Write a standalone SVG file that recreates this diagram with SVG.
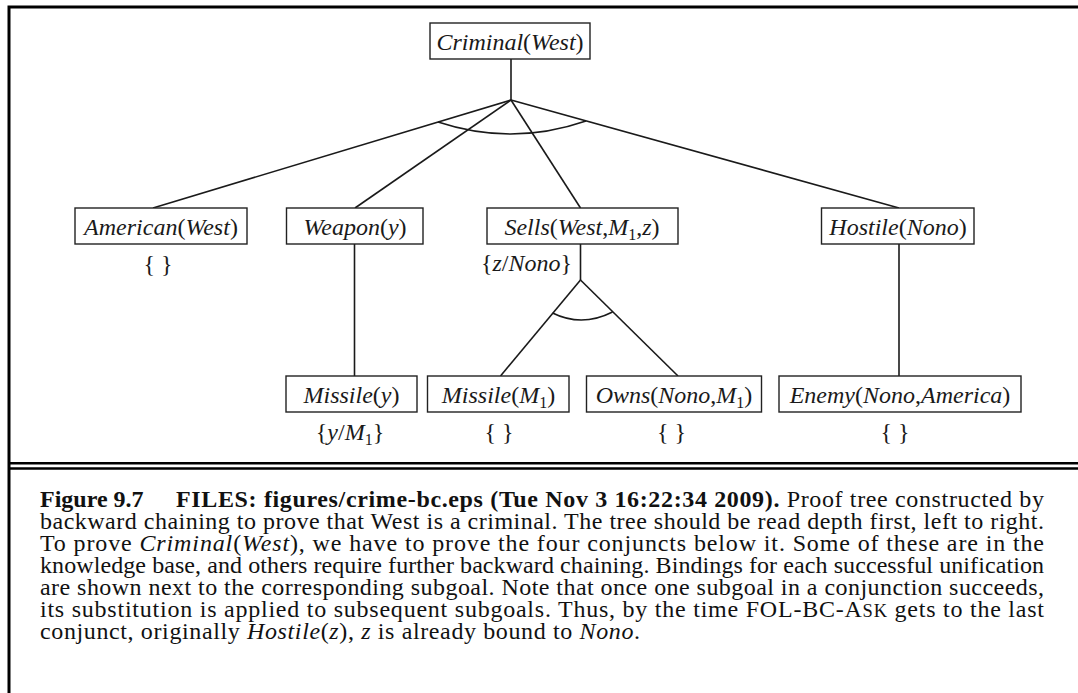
<svg xmlns="http://www.w3.org/2000/svg" width="1078" height="693" viewBox="0 0 1078 693">
<style>
.box{fill:#fff;stroke:#222;stroke-width:1.4}
.lbl{font-family:"Liberation Serif","Times New Roman",serif;font-size:24px;fill:#1a1a1a;text-anchor:middle}
.sl{font-family:"Liberation Serif","Times New Roman",serif;font-size:24px;fill:#1a1a1a}
.i{font-style:italic}
.sub{font-size:16px;font-style:normal}
.edge{fill:none;stroke:#1a1a1a;stroke-width:1.6}
.cap{font-family:"Liberation Serif","Times New Roman",serif;font-size:24px;fill:#111}
.b{font-weight:bold}
.sc{font-size:18.5px}
</style>
<rect x="0" y="0" width="1078" height="693" fill="#fff"/>
<rect x="9" y="7" width="1085" height="700" fill="none" stroke="#000" stroke-width="3"/>
<line x1="9" y1="463.3" x2="1078" y2="463.3" stroke="#000" stroke-width="2.6"/>
<line x1="9" y1="468.5" x2="1078" y2="468.5" stroke="#000" stroke-width="2.6"/>

<g id="connectors">
<line class="edge" x1="511" y1="59" x2="511" y2="100"/>
<line class="edge" x1="511" y1="100" x2="153" y2="208"/>
<line class="edge" x1="511" y1="100" x2="355" y2="208"/>
<line class="edge" x1="511" y1="100" x2="580.5" y2="208"/>
<line class="edge" x1="511" y1="100" x2="899" y2="208"/>
<path class="edge" d="M438,122 Q512,146.5 586,121"/>
<line class="edge" x1="354.5" y1="244" x2="354.5" y2="376"/>
<line class="edge" x1="580.5" y1="244" x2="580.5" y2="280"/>
<line class="edge" x1="580.5" y1="280" x2="500.5" y2="376"/>
<line class="edge" x1="580.5" y1="280" x2="678" y2="376"/>
<path class="edge" d="M552.5,313 Q582,327.5 612.5,312"/>
<line class="edge" x1="899" y1="244" x2="899" y2="376"/>
</g>

<g id="criminal">
<rect class="box" x="430" y="23" width="160" height="36"/>
<text class="lbl" x="510" y="50"><tspan class="i">Criminal</tspan>(<tspan class="i">West</tspan>)</text>
</g>
<g id="american">
<rect class="box" x="75" y="208" width="172" height="36"/>
<text class="lbl" x="161" y="235"><tspan class="i">American</tspan>(<tspan class="i">West</tspan>)</text>
<text class="lbl" x="158" y="272">{ }</text>
</g>
<g id="weapon">
<rect class="box" x="286.5" y="208" width="136.5" height="36"/>
<text class="lbl" x="355" y="235"><tspan class="i">Weapon</tspan>(<tspan class="i">y</tspan>)</text>
</g>
<g id="sells">
<rect class="box" x="487" y="208" width="191" height="36"/>
<text class="lbl" x="582" y="235"><tspan class="i">Sells</tspan>(<tspan class="i">West</tspan>,<tspan class="i">M</tspan><tspan class="sub" dy="5">1</tspan><tspan dy="-5">,</tspan><tspan class="i">z</tspan>)</text>
<text class="sl" x="572" y="271" text-anchor="end">{<tspan class="i">z</tspan>/<tspan class="i">Nono</tspan>}</text>
</g>
<g id="hostile">
<rect class="box" x="821.5" y="208" width="152.5" height="36"/>
<text class="lbl" x="898" y="235"><tspan class="i">Hostile</tspan>(<tspan class="i">Nono</tspan>)</text>
</g>
<g id="missile-y">
<rect class="box" x="286" y="376" width="131" height="36"/>
<text class="lbl" x="351.5" y="403"><tspan class="i">Missile</tspan>(<tspan class="i">y</tspan>)</text>
<text class="lbl" x="350" y="440">{<tspan class="i">y</tspan>/<tspan class="i">M</tspan><tspan class="sub" dy="5">1</tspan><tspan dy="-5">}</tspan></text>
</g>
<g id="missile-m1">
<rect class="box" x="427.5" y="376" width="141.5" height="36"/>
<text class="lbl" x="498.5" y="403"><tspan class="i">Missile</tspan>(<tspan class="i">M</tspan><tspan class="sub" dy="5">1</tspan><tspan dy="-5">)</tspan></text>
<text class="lbl" x="499" y="440">{ }</text>
</g>
<g id="owns">
<rect class="box" x="586.5" y="376" width="175" height="36"/>
<text class="lbl" x="674" y="403"><tspan class="i">Owns</tspan>(<tspan class="i">Nono</tspan>,<tspan class="i">M</tspan><tspan class="sub" dy="5">1</tspan><tspan dy="-5">)</tspan></text>
<text class="lbl" x="671.5" y="440">{ }</text>
</g>
<g id="enemy">
<rect class="box" x="779" y="376" width="242" height="36"/>
<text class="lbl" x="900" y="403"><tspan class="i">Enemy</tspan>(<tspan class="i">Nono</tspan>,<tspan class="i">America</tspan>)</text>
<text class="lbl" x="895" y="440">{ }</text>
</g>

<g id="caption">
<text class="cap b" x="40" y="507">Figure 9.7</text>
<text class="cap" x="176" y="507" textLength="868" lengthAdjust="spacing"><tspan class="b">FILES: figures/crime-bc.eps (Tue Nov 3 16:22:34 2009).</tspan>  Proof tree constructed by</text>
<text class="cap" x="40" y="529" textLength="1004" lengthAdjust="spacing">backward chaining to prove that West is a criminal.  The tree should be read depth first, left to right.</text>
<text class="cap" x="40" y="551" textLength="1004" lengthAdjust="spacing">To prove <tspan class="i">Criminal</tspan>(<tspan class="i">West</tspan>), we have to prove the four conjuncts below it.  Some of these are in the</text>
<text class="cap" x="40" y="573" textLength="1004" lengthAdjust="spacing">knowledge base, and others require further backward chaining. Bindings for each successful unification</text>
<text class="cap" x="40" y="595" textLength="1004" lengthAdjust="spacing">are shown next to the corresponding subgoal.  Note that once one subgoal in a conjunction succeeds,</text>
<text class="cap" x="40" y="617" textLength="1004" lengthAdjust="spacing">its substitution is applied to subsequent subgoals.  Thus, by the time FOL-BC-A<tspan class="sc">SK</tspan> gets to the last</text>
<text class="cap" x="40" y="639" textLength="600" lengthAdjust="spacing">conjunct, originally <tspan class="i">Hostile</tspan>(<tspan class="i">z</tspan>), <tspan class="i">z</tspan> is already bound to <tspan class="i">Nono</tspan>.</text>
</g>
</svg>
